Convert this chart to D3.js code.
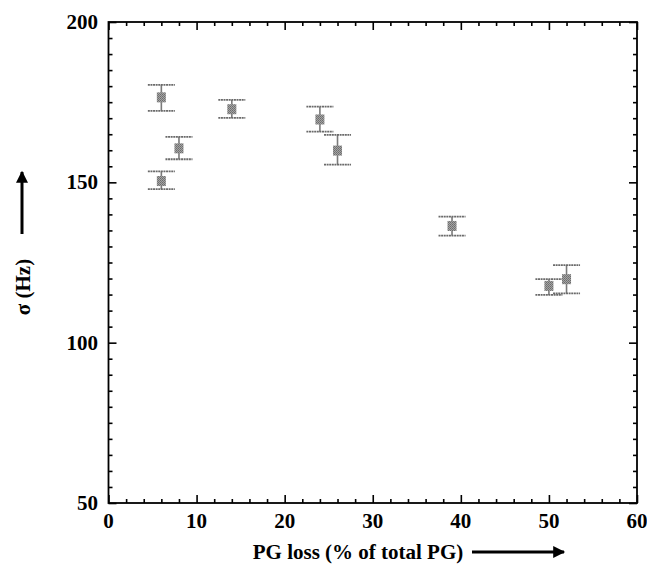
<!DOCTYPE html>
<html><head><meta charset="utf-8">
<script src="https://cdn.jsdelivr.net/npm/d3@7"></script>
<style>html,body{margin:0;padding:0;background:#fff;}svg{display:block;}</style>
</head><body>
<svg id="c" width="647" height="567"></svg>
<script>
const pgLoss = [6, 6, 8, 14, 24, 26, 39, 50, 52];
const sigma = [176.5, 150.4, 160.6, 172.8, 169.6, 159.9, 136.4, 117.7, 119.8];
const sigmaHigh = [180.4, 153.4, 164.2, 175.7, 173.6, 164.8, 139.3, 119.8, 124.2];
const sigmaLow = [172.3, 147.9, 157.2, 170.1, 165.8, 155.5, 133.4, 114.9, 115.4];
const xTicks = [0, 10, 20, 30, 40, 50, 60];
const yTicks = [50, 100, 150, 200];
const xTitle = "PG loss (% of total PG)";
const yTitle = "σ (Hz)";

const svg = d3.select("#c");
const L = 108.5, R = 637, T = 22, B = 503;
const x = d3.scaleLinear().domain([0, 60]).range([L, R]);
const y = d3.scaleLinear().domain([50, 200]).range([B, T]);
const font = "'Liberation Serif', 'Times New Roman', serif";

// marker texture pattern
const defs = svg.append("defs");
const pat = defs.append("pattern").attr("id", "dith").attr("width", 2).attr("height", 2).attr("patternUnits", "userSpaceOnUse");
pat.append("rect").attr("width", 2).attr("height", 2).attr("fill", "#a4a4a4");
pat.append("rect").attr("width", 1).attr("height", 1).attr("fill", "#6c6c6c");
pat.append("rect").attr("x", 1).attr("y", 1).attr("width", 1).attr("height", 1).attr("fill", "#787878");

// ticks (inward) via d3 axes
const minorX = d3.range(0, 61, 2).filter(v => v % 10 !== 0);
const minorY = d3.range(50, 201, 5).filter(v => v % 50 !== 0);
function styleAx(g) { g.select(".domain").remove(); g.selectAll("line").attr("stroke", "#000").attr("stroke-width", 1.6); g.selectAll("text").remove(); }
svg.append("g").attr("transform", `translate(0,${B})`).call(d3.axisTop(x).tickValues(xTicks).tickSize(8)).call(styleAx);
svg.append("g").attr("transform", `translate(0,${B})`).call(d3.axisTop(x).tickValues(minorX).tickSize(4)).call(styleAx);
svg.append("g").attr("transform", `translate(0,${T})`).call(d3.axisBottom(x).tickValues(xTicks).tickSize(8)).call(styleAx);
svg.append("g").attr("transform", `translate(0,${T})`).call(d3.axisBottom(x).tickValues(minorX).tickSize(4)).call(styleAx);
svg.append("g").attr("transform", `translate(${L},0)`).call(d3.axisRight(y).tickValues(yTicks).tickSize(8)).call(styleAx);
svg.append("g").attr("transform", `translate(${L},0)`).call(d3.axisRight(y).tickValues(minorY).tickSize(4)).call(styleAx);
svg.append("g").attr("transform", `translate(${R},0)`).call(d3.axisLeft(y).tickValues(yTicks).tickSize(8)).call(styleAx);
svg.append("g").attr("transform", `translate(${R},0)`).call(d3.axisLeft(y).tickValues(minorY).tickSize(4)).call(styleAx);

// frame
svg.append("rect").attr("x", L).attr("y", T).attr("width", R - L).attr("height", B - T)
  .attr("fill", "none").attr("stroke", "#000").attr("stroke-width", 1.8);

// tick labels
svg.append("g").selectAll("text").data(xTicks).join("text")
  .attr("x", d => x(d)).attr("y", 528).attr("text-anchor", "middle")
  .attr("font-family", font).attr("font-weight", "bold").attr("font-size", 21).text(d => d);
svg.append("g").selectAll("text").data(yTicks).join("text")
  .attr("x", 98).attr("y", d => y(d) + 7).attr("text-anchor", "end")
  .attr("font-family", font).attr("font-weight", "bold").attr("font-size", 21).text(d => d);

// error bars
const pts = pgLoss.map((v, i) => ({ x: v, y: sigma[i], hi: sigmaHigh[i], lo: sigmaLow[i] }));
const eb = svg.append("g");
eb.selectAll("line.v").data(pts).join("line").attr("class", "v")
  .attr("x1", d => x(d.x)).attr("x2", d => x(d.x)).attr("y1", d => y(d.hi)).attr("y2", d => y(d.lo))
  .attr("stroke", "#7a7a7a").attr("stroke-width", 1.6);
["hi", "lo"].forEach(k => {
  eb.selectAll("line.c" + k).data(pts).join("line").attr("class", "c" + k)
    .attr("x1", d => x(d.x) - 13.5).attr("x2", d => x(d.x) + 13.5)
    .attr("y1", d => y(d[k])).attr("y2", d => y(d[k]))
    .attr("stroke", "#6a6a6a").attr("stroke-width", 1.8).attr("stroke-dasharray", "2,0.6");
});
// markers
svg.append("g").selectAll("rect").data(pts).join("rect")
  .attr("x", d => x(d.x) - 4.5).attr("y", d => y(d.y) - 5).attr("width", 9).attr("height", 10)
  .attr("fill", "url(#dith)");

// axis titles
svg.append("text").attr("x", 358).attr("y", 559).attr("text-anchor", "middle")
  .attr("font-family", font).attr("font-weight", "bold").attr("font-size", 21).text(xTitle);
// arrows
defs.append("marker").attr("id", "ah").attr("viewBox", "0 0 10 10").attr("refX", 9).attr("refY", 5)
  .attr("markerWidth", 6).attr("markerHeight", 4).attr("markerUnits", "strokeWidth").attr("orient", "auto")
  .append("path").attr("d", "M0,0 L10,5 L0,10 Z").attr("fill", "#000");
svg.append("line").attr("x1", 472).attr("x2", 564).attr("y1", 552).attr("y2", 552)
  .attr("stroke", "#000").attr("stroke-width", 3).attr("marker-end", "url(#ah)");

svg.append("text").attr("transform", "translate(30,287) rotate(-90)").attr("text-anchor", "middle")
  .attr("font-family", font).attr("font-weight", "bold").attr("font-size", 21).text(yTitle);
svg.append("line").attr("x1", 22).attr("x2", 22).attr("y1", 234).attr("y2", 172)
  .attr("stroke", "#000").attr("stroke-width", 3).attr("marker-end", "url(#ah)");
</script>
</body></html>
